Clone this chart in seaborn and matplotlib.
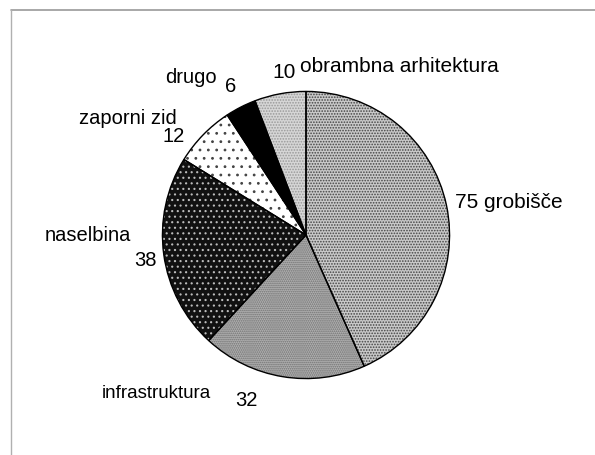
import matplotlib
matplotlib.use("Agg")
import matplotlib.pyplot as plt
import seaborn as sns
import pandas as pd

# chart data
categories = ["grobišče", "infrastruktura", "naselbina", "zaporni zid", "drugo", "obrambna arhitektura"]
counts = [75, 32, 38, 12, 6, 10]

# grayscale fills / dot patterns
face_colors = ["#c9c9c9", "#b0b0b0", "#111111", "#ffffff", "#000000", "#d6d6d6"]
hatch_colors = ["#444444", "#707070", "#bbbbbb", "#444444", "#000000", "#999999"]
hatches = ["......", "........", "...", "..", "", "......"]

df = pd.DataFrame({"category": categories, "count": counts})

sns.set_theme(style="white")
plt.rcParams["font.family"] = ["Liberation Sans", "DejaVu Sans"]
plt.rcParams["hatch.linewidth"] = 0.8

W, H = 595, 455
fig = plt.figure(figsize=(W / 100, H / 100), dpi=100)
fig.patch.set_facecolor("white")

# pie occupies a 290px square centered near (306, 235)
ax = fig.add_axes([161 / W, 1 - 380 / H, 290 / W, 290 / H])

# layer 1: fills with dot pattern
wedges, _ = ax.pie(df["count"], startangle=90, counterclock=False,
                   colors=face_colors, radius=1.0,
                   wedgeprops=dict(linewidth=0))
for w, hc, h in zip(wedges, hatch_colors, hatches):
    w.set_hatch(h)
    w.set_edgecolor(hc)
    w.set_linewidth(0)

# layer 2: black outlines
ax.pie(df["count"], startangle=90, counterclock=False, radius=1.0,
       colors=["none"] * len(df),
       wedgeprops=dict(linewidth=1.0, edgecolor="black", fill=False))
ax.set_xlim(-1.01, 1.01)
ax.set_ylim(-1.01, 1.01)
ax.set_aspect("equal")
ax.axis("off")

# labels placed like the original (pixel positions)
def put(x, y, s, ha="left", size=14.5):
    fig.text(x / W, 1 - y / H, s, ha=ha, va="center", fontsize=size, color="black")

put(300, 67, "obrambna arhitektura", size=15)
put(272, 73, "10", size=15)
put(217, 77, "drugo", ha="right")
put(225, 86, "6")
put(177, 119, "zaporni zid", ha="right")
put(185, 136, "12", ha="right")
put(45, 235, "naselbina")
put(157, 260, "38", ha="right")
put(455, 202, "75 grobišče", size=15)
put(102, 393, "infrastruktura", size=13.5)
put(235, 400, "32")

# scanned frame: light gray line top and left
fig.add_artist(plt.Line2D([11 / W, 1.0], [1 - 10 / H, 1 - 10 / H], transform=fig.transFigure,
                          color="#9a9a9a", linewidth=1.2))
fig.add_artist(plt.Line2D([11 / W, 11 / W], [0.0, 1 - 10 / H], transform=fig.transFigure,
                          color="#b0b0b0", linewidth=1.0))

fig.savefig("out.png", dpi=100)
